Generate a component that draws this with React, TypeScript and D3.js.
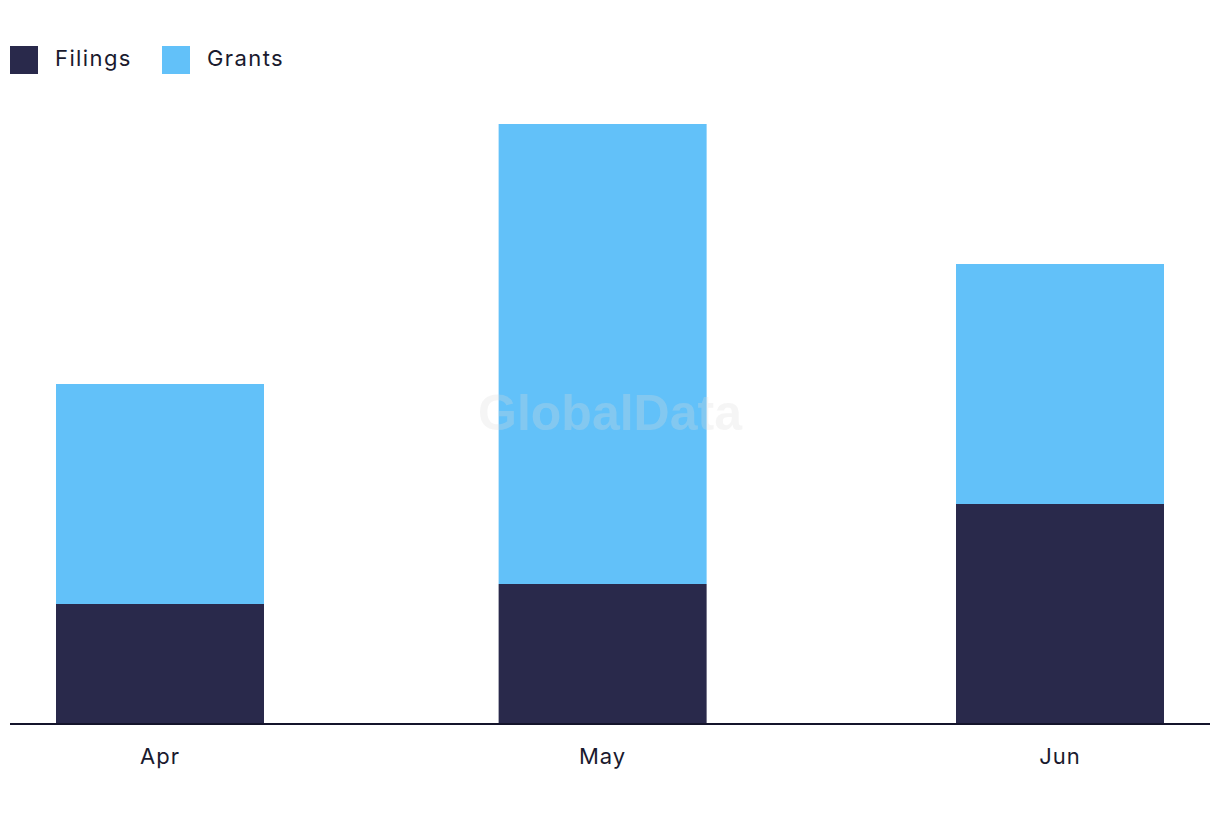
import React from "react";
import * as d3 from "d3";

const months = ["Apr", "May", "Jun"];
const monthDates = [new Date(2023, 3, 1), new Date(2023, 4, 1), new Date(2023, 5, 1)];
const filings = [6, 7, 11];
const grants = [11, 23, 12];
const seriesNames = ["Filings", "Grants"];
const seriesColors = ["#29294b", "#62c1f9"];

export default function App() {
  const W = 1220, H = 822;
  const x = d3.scaleTime().domain([monthDates[0], monthDates[2]]).range([160, 1060]);
  const y = d3.scaleLinear().domain([0, 30]).range([724, 124]);
  const barW = 208;
  const rows = months.map((m, i) => ({ m, Filings: filings[i], Grants: grants[i], date: monthDates[i] }));
  const stacked = d3.stack<any>().keys(seriesNames)(rows);
  const font = "Inter, 'Open Sans', sans-serif";
  return (
    <svg width={W} height={H} style={{ position: "absolute", left: 0, top: 0, background: "#fff" }}>
      {stacked.map((s, si) => (
        <g key={si} fill={seriesColors[si]}>
          {s.map((d, i) => (
            <rect key={i} x={x(rows[i].date) - barW / 2} y={y(d[1])} width={barW} height={y(d[0]) - y(d[1])} />
          ))}
        </g>
      ))}
      <text x={610} y={430} textAnchor="middle" fontFamily="'Liberation Sans', Arial, sans-serif" fontWeight="bold" fontSize={50} fill="#dcdcdc" fillOpacity={0.28}>GlobalData</text>
      <line x1={10} x2={1210} y1={724} y2={724} stroke="#14142b" strokeWidth={2} />
      {months.map((m, i) => (
        <text key={m} x={x(monthDates[i])} y={764} textAnchor="middle" fontFamily={font} fontSize={22} letterSpacing={1} fill="#1a1a2e">{m}</text>
      ))}
      {seriesNames.map((n, i) => (
        <g key={n} transform={`translate(${[10, 162][i]},46)`}>
          <rect width={28} height={28} fill={seriesColors[i]} />
          <text x={45} y={20} fontFamily={font} fontSize={22} letterSpacing={1.4} fill="#1a1a2e">{n}</text>
        </g>
      ))}
    </svg>
  );
}
